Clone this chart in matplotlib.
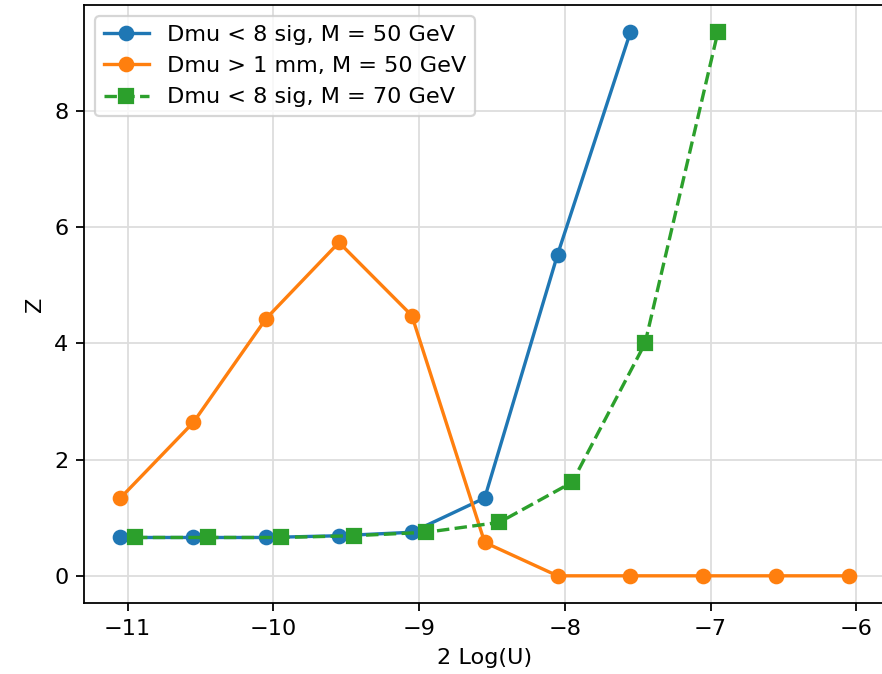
import matplotlib
matplotlib.use("Agg")
import matplotlib.pyplot as plt

x_blue = [-11.05, -10.55, -10.05, -9.55, -9.05, -8.55, -8.05, -7.55]
z_blue = [0.66, 0.66, 0.66, 0.69, 0.75, 1.34, 5.53, 9.36]

x_orange = [-11.05, -10.55, -10.05, -9.55, -9.05, -8.55, -8.05, -7.55, -7.05, -6.55, -6.05]
z_orange = [1.34, 2.64, 4.43, 5.74, 4.48, 0.575, 0.0, 0.0, 0.0, 0.0, 0.0]

x_green = [-10.95, -10.45, -9.95, -9.45, -8.95, -8.45, -7.95, -7.45, -6.95]
z_green = [0.66, 0.66, 0.66, 0.69, 0.75, 0.92, 1.61, 4.0, 9.36]

labels = ["Dmu < 8 sig, M = 50 GeV", "Dmu > 1 mm, M = 50 GeV", "Dmu < 8 sig, M = 70 GeV"]

dpi = 161
fig = plt.figure(figsize=(882 / dpi, 674 / dpi), dpi=dpi)
ax = fig.add_axes([84 / 882, 1 - 603 / 674, 801.4 / 882, 598 / 674])

ax.plot(x_blue, z_blue, "o-", color="tab:blue", label=labels[0])
ax.plot(x_orange, z_orange, "o-", color="tab:orange", label=labels[1])
ax.plot(x_green, z_green, "s--", color="tab:green", label=labels[2])

ax.set_xlabel("2 Log(U)")
ax.set_ylabel("Z")
ax.grid(True, color="#dddddd")
ax.legend(loc="upper left")

fig.savefig("out.png", dpi=dpi)
